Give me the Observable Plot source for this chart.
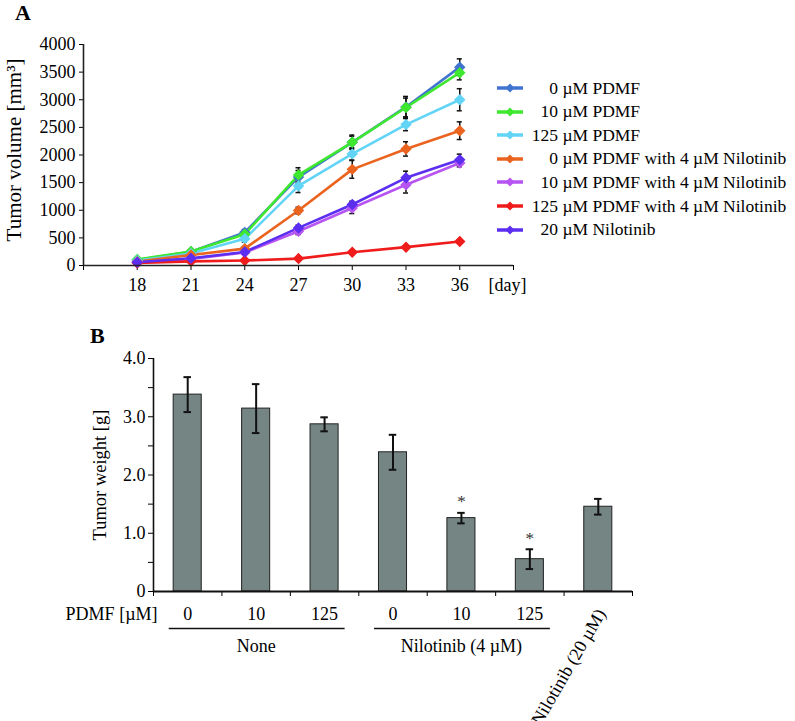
<!DOCTYPE html>
<html><head><meta charset="utf-8">
<script src="https://cdn.jsdelivr.net/npm/d3@7"></script>
<script src="https://cdn.jsdelivr.net/npm/@observablehq/plot@0.6"></script>
<style>
body{margin:0;background:#fff;}
#root{position:relative;width:795px;height:721px;font-family:"Liberation Serif",serif;color:#000;overflow:hidden;background:#fff;}
.panel{position:absolute;font-weight:bold;font-size:22px;line-height:22px;}
.legrow{position:absolute;left:497px;height:24px;display:flex;align-items:center;font-size:17.5px;white-space:pre;}
.legnum{display:inline-block;width:30px;text-align:right;margin-left:5px;}
</style></head><body><div id="root"></div>
<script>
// ---------- Panel A data ----------
const days = [18, 21, 24, 27, 30, 33, 36];
const dayUnit = "[day]";
const volTicks = [0, 500, 1000, 1500, 2000, 2500, 3000, 3500, 4000];
const seriesNames = ["0 µM PDMF", "10 µM PDMF", "125 µM PDMF", "0 µM PDMF with 4 µM Nilotinib",
  "10 µM PDMF with 4 µM Nilotinib", "125 µM PDMF with 4 µM Nilotinib", "20 µM Nilotinib"];
const seriesColors = ["#4174d0", "#3ee82e", "#62d4f6", "#ea6420", "#b655f2", "#f01c1c", "#5b2ef0"];
const vol0PDMF      = [100, 250, 600, 1600, 2230, 2870, 3590];
const vol10PDMF     = [110, 255, 565, 1640, 2230, 2860, 3490];
const vol125PDMF    = [90, 215, 483, 1440, 2020, 2550, 3000];
const vol0Nilo      = [70, 190, 305, 995, 1740, 2110, 2440];
const vol10Nilo     = [55, 120, 235, 620, 1040, 1462, 1855];
const vol125Nilo    = [45, 75, 90, 125, 240, 332, 435];
const vol20Nilo     = [60, 130, 245, 680, 1104, 1587, 1915];
const err0PDMF      = [20, 30, 50, 120, 130, 190, 150];
const err10PDMF     = [20, 30, 50, 130, 110, 170, 130];
const err125PDMF    = [15, 25, 60, 120, 110, 110, 200];
const err0Nilo      = [15, 20, 40, 60, 160, 130, 160];
const err10Nilo     = [10, 20, 30, 60, 100, 150, 70];
const err125Nilo    = [5, 10, 10, 15, 20, 25, 30];
const err20Nilo     = [10, 20, 30, 50, 60, 120, 100];
const volumes = [vol0PDMF, vol10PDMF, vol125PDMF, vol0Nilo, vol10Nilo, vol125Nilo, vol20Nilo];
const errors = [err0PDMF, err10PDMF, err125PDMF, err0Nilo, err10Nilo, err125Nilo, err20Nilo];

// ---------- Panel B data ----------
const weightCats = ["0", "10", "125", "0", "10", "125", "Nilotinib (20 µM)"];
const weights    = [3.38, 3.14, 2.87, 2.39, 1.26, 0.555, 1.455];
const weightErr  = [0.30, 0.42, 0.12, 0.30, 0.09, 0.17, 0.135];
const significant = [false, false, false, false, true, true, false];
const weightTicks = [0, 0.5, 1, 1.5, 2, 2.5, 3, 3.5, 4];
const groupNames = ["None", "Nilotinib (4 µM)"];
const groupFrom = [0, 3];
const groupTo = [2, 5];
const pdmfAxisLabel = "PDMF [µM]";

const root = document.getElementById("root");
const baseStyle = {fontFamily: "Liberation Serif", fontSize: "18px", background: "transparent", color: "#000", overflow: "visible"};

// ---------- Panel A ----------
const rowsA = [];
volumes.forEach((vals, k) => vals.forEach((v, j) => rowsA.push({series: seriesNames[k], day: days[j], v, e: errors[k][j]})));
const capsA = rowsA.flatMap(d => [{day: d.day, y: d.v + d.e}, {day: d.day, y: d.v - d.e}]);
const xMinA = days[0] - 3, xMaxA = days[days.length - 1] + 3;
const plotA = Plot.plot({
  width: 530, height: 300, marginLeft: 83, marginRight: 17, marginTop: 44, marginBottom: 35,
  style: baseStyle,
  x: {domain: [xMinA, xMaxA]},
  y: {domain: [0, 4000]},
  color: {domain: seriesNames, range: seriesColors},
  marks: [
    Plot.axisY({ticks: volTicks, tickSize: 4, tickPadding: 4, label: null, fontSize: 18, tickFormat: d => String(d)}),
    Plot.axisX({ticks: d3.range(xMinA, xMaxA + 1, 3), tickSize: 5, tickPadding: 8, label: null, fontSize: 18,
      tickFormat: d => days.includes(d) ? String(d) : ""}),
    Plot.axisX({ticks: [xMaxA], tickSize: 0, tickPadding: 13, dx: -6, label: null, fontSize: 18, tickFormat: () => dayUnit}),
    Plot.text(["Tumor volume [mm³]"], {frameAnchor: "left", textAnchor: "middle", rotate: -90, dx: -69, dy: -5, fontSize: 21}),
    Plot.line(rowsA, {x: "day", y: "v", z: "series", stroke: "series", strokeWidth: 2.6}),
    Plot.ruleX(rowsA, {x: "day", y1: d => d.v - d.e, y2: d => d.v + d.e, stroke: "#111", strokeWidth: 1.5}),
    Plot.ruleY(capsA, {y: "y", x1: d => d.day - 0.14, x2: d => d.day + 0.14, stroke: "#111", strokeWidth: 1.5}),
    Plot.dot(rowsA, {x: "day", y: "v", fill: "series", stroke: "series", symbol: "diamond2", r: 4.2}),
    Plot.ruleY([0], {stroke: "#222", strokeWidth: 1.6}),
    Plot.ruleX([xMinA], {stroke: "#222", strokeWidth: 1.6})
  ]
});
plotA.style.position = "absolute"; plotA.style.left = "0px"; plotA.style.top = "0px";
root.appendChild(plotA);

// Legend A
seriesNames.forEach((name, k) => {
  const row = document.createElement("div");
  row.className = "legrow";
  row.style.top = (76 + 23.6 * k) + "px";
  const sw = `<svg width="26" height="12" style="flex:none"><line x1="0" y1="6" x2="26" y2="6" stroke="${seriesColors[k]}" stroke-width="3.5"/><path d="M13,1.5L17.5,6L13,10.5L8.5,6Z" fill="${seriesColors[k]}"/></svg>`;
  const m = name.match(/^(\d+)(.*)$/);
  row.innerHTML = sw + `<span class="legnum">${m[1]}</span><span>${m[2]}</span>`;
  root.appendChild(row);
});

// ---------- Panel B ----------
const rowsB = weights.map((w, i) => ({i, cat: weightCats[i], w, e: weightErr[i], sig: significant[i]}));
const capsB = rowsB.flatMap(d => [{i: d.i, y: d.w + d.e}, {i: d.i, y: d.w - d.e}]);
const nCat = weights.length;
const groupsB = groupNames.map((g, k) => ({name: g, from: groupFrom[k], to: groupTo[k]}));
const plotB = Plot.plot({
  width: 795, height: 421, marginLeft: 153, marginRight: 163, marginTop: 58, marginBottom: 130,
  style: baseStyle,
  x: {domain: [0, nCat]},
  y: {domain: [0, 4]},
  marks: [
    Plot.axisY({ticks: weightTicks, tickSize: 5, tickPadding: 3, label: null, fontSize: 18,
      tickFormat: d => d === 0 ? "0" : (Number.isInteger(d) ? d.toFixed(1) : "")}),
    Plot.axisX({ticks: d3.range(0, nCat + 1), tickSize: 5, label: null, tickFormat: () => ""}),
    Plot.text(["Tumor weight [g]"], {frameAnchor: "left", textAnchor: "middle", rotate: -90, dx: -53, fontSize: 18.5}),
    Plot.rectY(rowsB, {x1: d => d.i + 0.5 - 0.205, x2: d => d.i + 0.5 + 0.205, y1: 0, y2: "w", fill: "#748583", stroke: "#222", strokeWidth: 1}),
    Plot.ruleX(rowsB, {x: d => d.i + 0.5, y1: d => d.w - d.e, y2: d => d.w + d.e, stroke: "#111", strokeWidth: 2}),
    Plot.ruleY(capsB, {y: "y", x1: d => d.i + 0.5 - 0.055, x2: d => d.i + 0.5 + 0.055, stroke: "#111", strokeWidth: 2}),
    Plot.text(rowsB.filter(d => d.sig), {x: d => d.i + 0.5, y: d => d.w + d.e, dy: -11, text: () => "*", fontSize: 17, fill: "#333"}),
    Plot.ruleY([0], {stroke: "#111", strokeWidth: 2}),
    Plot.ruleX([0], {y1: 0, y2: 4, stroke: "#111", strokeWidth: 1.6}),
    // category labels under axis
    Plot.text(rowsB.filter(d => d.i < nCat - 1), {x: d => d.i + 0.5, y: 0, dy: 23, text: "cat", fontSize: 18}),
    Plot.text([pdmfAxisLabel], {x: 0, y: 0, dy: 23, dx: 4, textAnchor: "end", fontSize: 18}),
    Plot.ruleY(groupsB, {y: 0, dy: 37, x1: d => d.from + 0.23, x2: d => d.to + 0.8, stroke: "#111", strokeWidth: 1.3}),
    Plot.text(groupsB, {x: d => (d.from + d.to + 1) / 2, y: 0, dy: 55, text: "name", fontSize: 18}),
    Plot.text(rowsB.filter(d => d.i === nCat - 1), {x: d => d.i + 0.5, y: 0, dx: 3, dy: 19, text: "cat", rotate: -60, textAnchor: "end", fontSize: 18})
  ]
});
plotB.style.position = "absolute"; plotB.style.left = "0px"; plotB.style.top = "300px";
root.appendChild(plotB);

// Panel letters
const la = document.createElement("div"); la.className = "panel"; la.textContent = "A"; la.style.left = "15px"; la.style.top = "2px"; root.appendChild(la);
const lb = document.createElement("div"); lb.className = "panel"; lb.textContent = "B"; lb.style.left = "90px"; lb.style.top = "325px"; root.appendChild(lb);
</script></body></html>
